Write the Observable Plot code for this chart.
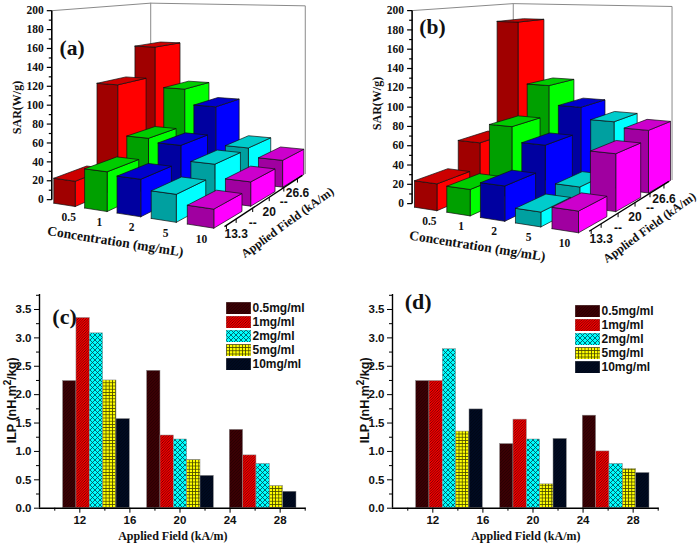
<!DOCTYPE html>
<html><head><meta charset="utf-8">
<script src="https://cdn.jsdelivr.net/npm/d3@7"></script>
<script src="https://cdn.jsdelivr.net/npm/@observablehq/plot@0.6"></script>
<style>
html,body{margin:0;padding:0;background:#fff}
#page{position:relative;width:699px;height:544px;overflow:hidden}
#page>svg,#page>div{position:absolute}
.leg{display:flex;flex-direction:column;gap:1.75px;font:bold 12px "Liberation Sans",Arial,sans-serif;color:#111}
.leg div{display:flex;align-items:center;height:12.3px;gap:1.5px}
</style></head><body><div id="page"></div>
<script>
// ---------- data ----------
const concentrations = ["0.5","1","2","5","10"];
const fieldTicks = ["13.3","--","20","--","26.6"];
// SAR (W/g): one row per applied field (13.3, 20, 26.6), one value per concentration
const sarA133 = [26,40,37,27,18];
const sarA200 = [115,59,55,39,25];
const sarA266 = [150,102,84,40,30];
const sarB133 = [27,26,34,14,20];
const sarB200 = [54,75,59,20,58];
const sarB266 = [181,109,87,74,68];
const faceFront = ["#a00000","#00a000","#0000a0","#00a0a0","#a000a0"];
const faceSide  = ["#ff0000","#00ff00","#0000ff","#00ffff","#ff00ff"];
const faceTop   = ["#cc0000","#00cc00","#0000cc","#00cccc","#cc00cc"];
// ILP: one list per concentration, one value per group
const groupFields = [13.33,20.04,26.64];
const seriesNames = ["0.5mg/ml","1mg/ml","2mg/ml","5mg/ml","10mg/ml"];
const ilpC = [[2.24,2.42,1.38],[3.35,1.28,0.93],[3.08,1.21,0.78],[2.25,0.85,0.39],[1.57,0.57,0.29]];
const ilpD = [[2.24,1.13,1.63],[2.24,1.56,1.00],[2.80,1.21,0.78],[1.35,0.42,0.69],[1.74,1.22,0.62]];
const xMajor = [12,16,20,24,28];
const xMinor = [10,14,18,22,26,30];
const yMajor = [0,0.5,1,1.5,2,2.5,3,3.5];
const yMinor = [0.25,0.75,1.25,1.75,2.25,2.75,3.25,3.75];

const page = d3.select("#page");
const SERIF = '"Liberation Serif","Times New Roman",serif';
const SANS = '"Liberation Sans",Arial,sans-serif';

// ---------- patterns ----------
const defsSvg = page.append("svg").attr("width",0).attr("height",0).style("left",0).style("top",0);
const defs = defsSvg.append("defs");
function pattern(id,size,bg,paths,stroke,sw){
  const p = defs.append("pattern").attr("id",id).attr("patternUnits","userSpaceOnUse").attr("width",size).attr("height",size);
  p.append("rect").attr("width",size).attr("height",size).attr("fill",bg);
  paths.forEach(d=>p.append("path").attr("d",d).attr("stroke",stroke).attr("stroke-width",sw).attr("fill","none"));
}
pattern("p0",3,"#3a0004",["M0,3L3,0"],"#200000",0.6);
pattern("p1",2.6,"#f80000",["M0,2.6L2.6,0","M-1,1L1,-1","M1.6,3.6L3.6,1.6"],"#5a0000",0.8);
pattern("p2",5,"#00ffff",["M0,0L5,5","M0,5L5,0"],"#00484f",0.8);
pattern("p3",3.2,"#ffff00",["M0,0.4H3.2","M0.4,0V3.2"],"#4a4a00",0.8);
pattern("p4",3,"#000a20",["M0,3L3,0"],"#00040f",0.5);
const fills = ["url(#p0)","url(#p1)","url(#p2)","url(#p3)","url(#p4)"];

// ---------- 3D panels ----------
function homography([p0,p1,p2,p3]){
  const dx1=p1[0]-p2[0],dx2=p3[0]-p2[0],sx=p0[0]-p1[0]+p2[0]-p3[0];
  const dy1=p1[1]-p2[1],dy2=p3[1]-p2[1],sy=p0[1]-p1[1]+p2[1]-p3[1];
  const den=dx1*dy2-dx2*dy1, g=(sx*dy2-dx2*sy)/den, h=(dx1*sy-sx*dy1)/den;
  const a=p1[0]-p0[0]+g*p1[0], b=p3[0]-p0[0]+h*p3[0], d=p1[1]-p0[1]+g*p1[1], e=p3[1]-p0[1]+h*p3[1];
  return (u,v)=>{const w=g*u+h*v+1;return [(a*u+b*v+p0[0])/w,(d*u+e*v+p0[1])/w];};
}
function panel3d(cfg){
  const H = homography(cfg.quad);
  const P = (u,v,z)=>{const [X,Y]=H(u,v);return [X,Y-cfg.k*z*(Y-cfg.horizon)];};
  const U = i=>[i/4.7,(i+.7)/4.7], V = j=>[j/2.75,(j+.75)/2.75];
  const faces=[];
  const addFace=(id,color,pts)=>[...pts,pts[0]].forEach(p=>faces.push({id,color,x:p[0],y:p[1]}));
  [2,1,0].forEach(j=>{
    concentrations.forEach((c,i)=>{
      const z=cfg.rows[j][i]; const [u0,u1]=U(i),[v0,v1]=V(j); const id=`${j}-${i}-`;
      addFace(id+"s",faceSide[i],[P(u1,v0,0),P(u1,v1,0),P(u1,v1,z),P(u1,v0,z)]);
      addFace(id+"f",faceFront[i],[P(u0,v0,0),P(u1,v0,0),P(u1,v0,z),P(u0,v0,z)]);
      addFace(id+"t",faceTop[i],[P(u0,v0,z),P(u1,v0,z),P(u1,v1,z),P(u0,v1,z)]);
    });
  });
  const {uL,uR,vF,vBL,vB}=cfg.frame;
  const wall=[P(uL,vF,200),P(uL,vBL,200),P(uR,vB,200),P(uR,vB,0)].map(p=>({x:p[0],y:p[1]}));
  const back=[P(uL,vBL,0),P(uL,vBL,200)].map(p=>({x:p[0],y:p[1]}));
  const yVals=d3.range(0,201,10);
  const yTicks=yVals.map(z=>{const p=P(uL,vF,z);return {x:p[0],y:p[1],major:z%20===0,z};});
  const base=P(uL,vF,0),top=P(uL,vF,200);
  const a0=P(1.035,.04,0),a1=P(1,.98,0);
  const along=t=>({x:a0[0]+(a1[0]-a0[0])*t,y:a0[1]+(a1[1]-a0[1])*t});
  const fieldT=cfg.axisFrac.map(along);
  const concLabels=concentrations.map((t,i)=>{const p=P((i+.35)/4.7+cfg.concU-cfg.concStep*i,cfg.concV,0);return {t,x:p[0],y:p[1]};});
  const fieldLabels=fieldTicks.map((t,k)=>{const p=fieldT[k+1];return {t,x:p.x,y:p.y+15};});
  const W=cfg.width,Ht=270;
  const svg=Plot.plot({
    width:W,height:Ht,margin:0,
    style:{background:"transparent",overflow:"visible"},
    x:{domain:[0,W],range:[0,W],axis:null},
    y:{domain:[0,Ht],range:[0,Ht],axis:null},
    color:{type:"identity"},
    marks:[
      Plot.line(back,{x:"x",y:"y",stroke:"#8a8a8a",strokeWidth:1}),
      Plot.line(wall,{x:"x",y:"y",stroke:"#8a8a8a",strokeWidth:1}),
      Plot.line(faces,{x:"x",y:"y",z:"id",fill:"color",stroke:"#101010",strokeWidth:.7}),
      Plot.link([0],{x1:()=>base[0],y1:()=>base[1],x2:()=>top[0],y2:()=>top[1],stroke:"#000",strokeWidth:1.6}),
      Plot.link(yTicks,{x1:d=>d.x-(d.major?5:3),x2:"x",y1:"y",y2:"y",stroke:"#000",strokeWidth:1.2}),
      Plot.text(yTicks.filter(d=>d.major),{x:d=>d.x-8,y:"y",text:d=>String(d.z),textAnchor:"end",fontFamily:SERIF,fontWeight:"bold",fontSize:11.5,fill:"#111"}),
      Plot.link([0],{x1:()=>a0[0],y1:()=>a0[1],x2:()=>a1[0],y2:()=>a1[1],stroke:"#000",strokeWidth:1.3}),
      Plot.link(fieldT,{x1:"x",x2:"x",y1:"y",y2:d=>d.y+4,stroke:"#000",strokeWidth:1}),
      Plot.text(concLabels,{x:"x",y:"y",text:"t",fontFamily:SERIF,fontWeight:"bold",fontSize:11.5,fill:"#111"}),
      Plot.text(fieldLabels,{x:"x",y:"y",text:"t",fontFamily:SANS,fontWeight:"bold",fontSize:12,fill:"#111"}),
      Plot.text(["SAR(W/g)"],{x:()=>cfg.sar[0],y:()=>cfg.sar[1],rotate:-90,fontFamily:SERIF,fontWeight:"bold",fontSize:12,fill:"#111"}),
      Plot.text(["Concentration (mg/mL)"],{x:()=>cfg.conc[0],y:()=>cfg.conc[1],rotate:9,fontFamily:SERIF,fontWeight:"bold",fontSize:13.5,fill:"#111"}),
      Plot.text(["Applied Field (kA/m)"],{x:()=>cfg.app[0],y:()=>cfg.app[1],rotate:-36,fontFamily:SERIF,fontWeight:"bold",fontSize:12.2,fill:"#111"}),
      Plot.text([cfg.label],{x:()=>cfg.lab[0],y:()=>cfg.lab[1],fontFamily:SERIF,fontWeight:"bold",fontSize:21.5,fill:"#111"})
    ]
  });
  d3.select(svg).style("left",cfg.left+"px").style("top","0px");
  page.node().append(svg);
}
const frame3d={uL:-.055,uR:1.0,vF:.045,vBL:.97,vB:1.02};
const axisFrac=[.025,.15,.3625,.575,.7625,.9375];
panel3d({left:0,width:350,label:"(a)",rows:[sarA133,sarA200,sarA266],
  quad:[[53.3,202.7],[213.3,227.7],[303.3,174],[160,158.3]],horizon:-33,k:.00407,
  frame:frame3d,axisFrac,concU:.16,concStep:.015,concV:-.15,
  sar:[17,107],conc:[115,241],app:[287,222],lab:[71.5,48]});
panel3d({left:350,width:349,label:"(b)",rows:[sarB133,sarB200,sarB266],
  quad:[[64,206.7],[228,232.3],[320,180],[173,162.3]],horizon:-30,k:.00414,
  frame:frame3d,axisFrac,concU:.15,concStep:.015,concV:-.15,
  sar:[27,103],conc:[127,245.5],app:[299,227],lab:[82,27]});

// ---------- 2D panels ----------
function panel2d(cfg){
  const W=cfg.width,Ht=264;
  const barW=1.066;
  const bars=cfg.values.map((vals,s)=>Plot.rectY(vals.map((v,g)=>({v,g})),{
    x1:d=>groupFields[d.g]+(s-2.5)*barW,
    x2:d=>groupFields[d.g]+(s-1.5)*barW,
    y:"v",fill:fills[s],stroke:"#8a8a8a",strokeWidth:.5}));
  const axisStyle={fontFamily:SANS,fontWeight:"bold",fontSize:11.5,fill:"#111"};
  const superscript=(index,scales,values,dims,context,next)=>{
    const g=next(index,scales,values,dims,context);
    const t=d3.select(g).select("text");
    t.text(null);
    t.append("tspan").text("ILP (nH.m");
    t.append("tspan").attr("dy",-4.5).attr("font-size",10).text("2");
    t.append("tspan").attr("dy",4.5).text("/kg)");
    return g;
  };
  const svg=Plot.plot({
    width:W,height:Ht,marginLeft:39,marginRight:W-39-266.7,marginTop:14,marginBottom:36.3,
    style:{background:"transparent",overflow:"visible"},
    x:{domain:[8.78,30.08],axis:null},
    y:{domain:[0,3.764],axis:null},
    marks:[
      ...bars,
      Plot.ruleX([8.78],{stroke:"#000",strokeWidth:1.4}),
      Plot.ruleY([0],{stroke:"#000",strokeWidth:1.4}),
      Plot.axisY(yMajor,{tickSize:5,tickPadding:3,tickFormat:d3.format(".1f"),label:null,...axisStyle}),
      Plot.axisY(yMinor,{tickSize:3,tickFormat:()=>"",label:null}),
      Plot.axisX(xMajor,{tickSize:5,tickPadding:3,label:null,...axisStyle}),
      Plot.axisX(xMinor,{tickSize:3,tickFormat:()=>"",label:null}),
      Plot.text(["Applied Field (kA/m)"],{frameAnchor:"bottom",dy:31.5,fontFamily:SERIF,fontWeight:"bold",fontSize:12,fill:"#111"}),
      Plot.text(["ILP (nH.m2/kg)"],{frameAnchor:"left",textAnchor:"middle",rotate:-90,dx:-28,dy:cfg.ilpDy,fontFamily:SANS,fontWeight:"bold",fontSize:12.5,fill:"#111",render:superscript}),
      Plot.text([cfg.label],{x:()=>cfg.lab[0],y:()=>cfg.lab[1],fontFamily:SERIF,fontWeight:"bold",fontSize:22,fill:"#111"})
    ]
  });
  d3.select(svg).style("left",cfg.left+"px").style("top","280px");
  page.node().append(svg);
  const leg=page.append("div").attr("class","leg").style("left",cfg.legX+"px").style("top",cfg.legY+"px");
  seriesNames.forEach((n,s)=>{
    const row=leg.append("div");
    const sw=row.append("svg").attr("width",25).attr("height",12.3).style("display","block");
    sw.append("rect").attr("width",25).attr("height",12.3).attr("fill",fills[s]).attr("stroke","#8a8a8a").attr("stroke-width",.6);
    row.append("span").text(n);
  });
}
panel2d({left:0,width:350,label:"(c)",values:ilpC,lab:[10.78,3.37],ilpDy:-1,legX:226,legY:301.7});
panel2d({left:352.7,width:346,label:"(d)",values:ilpD,lab:[10.83,3.63],ilpDy:-1,legX:575,legY:305});
</script></body></html>
